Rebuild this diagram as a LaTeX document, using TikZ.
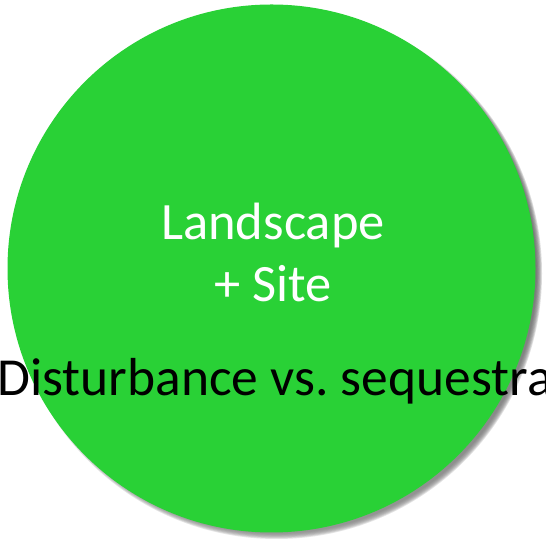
\documentclass[tikz,border=0pt]{standalone}
\usepackage{fontspec}
\setmainfont{Carlito}
\usepackage{tikz}
\usetikzlibrary{calc}
\definecolor{leaf}{RGB}{41, 209, 54}
\definecolor{shade}{RGB}{80, 80, 80}
\frenchspacing

\begin{document}
\begin{tikzpicture}[x=1pt, y=1pt]

  \useasboundingbox (0, 0) rectangle (546, 540);

  \foreach \i in {0, 1,..., 7} {
    \fill[shade, opacity=0.11] (276.5, 266.5) circle ({265.5 - 0.8 * \i});
  }

  \fill[leaf] (271.5, 271.5) circle (264);

  \node[white, anchor=base, inner sep=0, font=\fontsize{52.5}{58}\selectfont] (land) at (273, 300) {Landscape};
  \node[white, anchor=base, inner sep=0, font=\fontsize{52.5}{58}\selectfont] (site) at (273, 238) {+ Site};

  \node[black, anchor=base west, inner sep=0, font=\fontsize{53.5}{58}\selectfont] (dist) at (-3, 144) {Disturbance vs. sequestra};

\end{tikzpicture}
\end{document}
